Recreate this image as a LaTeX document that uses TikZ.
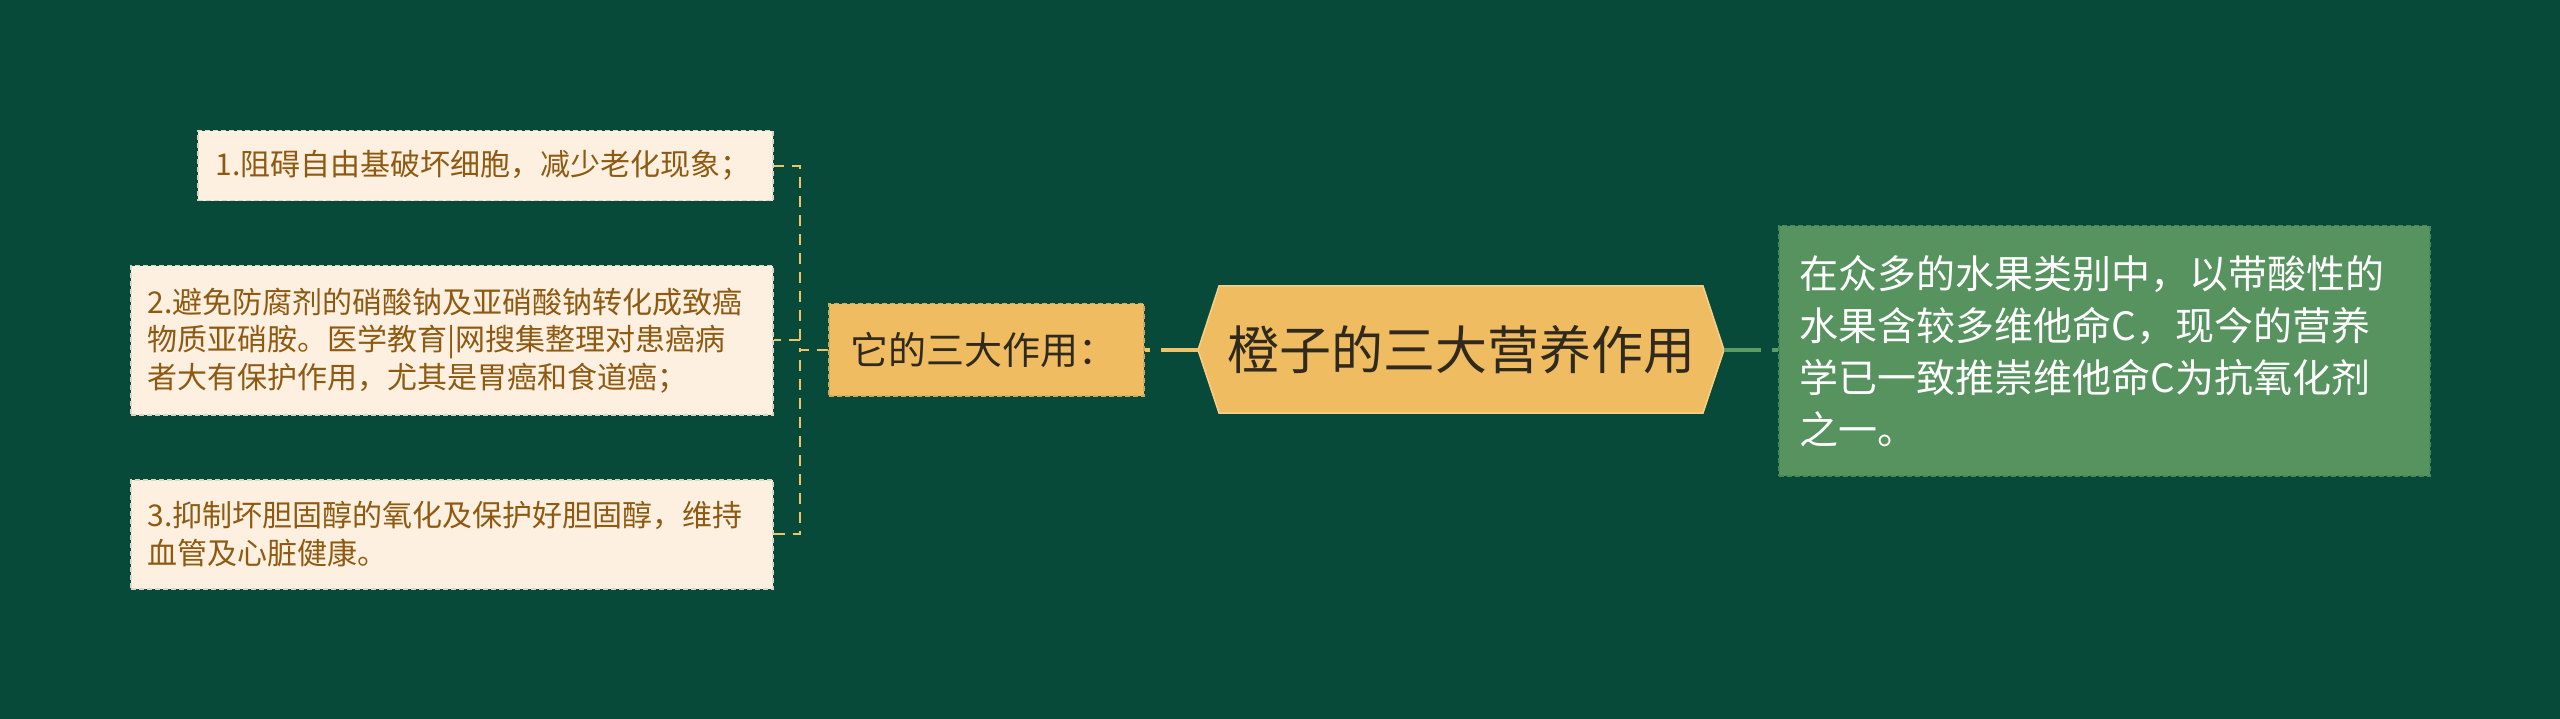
\documentclass[tikz,border=0pt]{standalone}
\usepackage{fontspec}
\setmainfont{Noto Sans CJK SC}
\definecolor{bg}{HTML}{074A3A}
\definecolor{hexfill}{HTML}{F0BC62}
\definecolor{hexline}{HTML}{F6D08A}
\definecolor{darktext}{HTML}{302A1E}
\definecolor{leaffill}{HTML}{FDF0E0}
\definecolor{leaftext}{HTML}{8E5A12}
\definecolor{greenfill}{HTML}{56935E}
\definecolor{greenline}{HTML}{5B9B64}
\definecolor{yline}{HTML}{EDC46C}
\begin{document}
\begin{tikzpicture}[x=1pt,y=-1pt,
  boxbase/.style={anchor=north west, align=left, inner ysep=0pt, line width=1.5pt, dash pattern=on 5pt off 3pt},
  leafbox/.style={boxbase, fill=leaffill, draw=leaffill!85!bg, text=leaftext, font=\fontsize{30}{37.5}\selectfont},
  midbox/.style={boxbase, fill=hexfill, draw=hexfill!85!bg, text=darktext, font=\fontsize{38}{46}\selectfont},
  greenbox/.style={boxbase, fill=greenfill, draw=greenfill!85!bg, text=white, font=\fontsize{39}{52}\selectfont},
  thickline/.style={line width=4pt, dash pattern=on 37pt off 11pt},
  trunk/.style={draw=yline, line width=2pt, dash pattern=on 11pt off 8pt}
]
\useasboundingbox (0,0) rectangle (2560,719);
\fill[bg] (0,0) rectangle (2560,719);

% central hexagon
\coordinate (hw) at (1198,350);
\coordinate (hnw) at (1219,286);
\coordinate (hne) at (1703,286);
\coordinate (he) at (1724,350);
\coordinate (hse) at (1703,413);
\coordinate (hsw) at (1219,413);
\filldraw[fill=hexfill, draw=hexline, line width=1.5pt] (hw) -- (hnw) -- (hne) -- (he) -- (hse) -- (hsw) -- cycle;
\node[text=darktext, font=\fontsize{52}{60}\selectfont, inner sep=0pt] (core) at (1461,350) {橙子的三大营养作用};

% left branch
\node[midbox, minimum width=315pt, minimum height=92pt, text width=271pt, inner xsep=22pt] (mid) at (828,303) {它的三大作用：};

\node[leafbox, minimum width=575pt, minimum height=70pt, text width=539pt, inner xsep=18pt] (l1) at (197,130) {1.阻碍自由基破坏细胞，减少老化现象；};
\node[leafbox, minimum width=642pt, minimum height=149pt, text width=608pt, inner xsep=17pt] (l2) at (130,265) {2.避免防腐剂的硝酸钠及亚硝酸钠转化成致癌\\物质亚硝胺。医学教育|网搜集整理对患癌病\\者大有保护作用，尤其是胃癌和食道癌；};
\node[leafbox, minimum width=642pt, minimum height=109pt, text width=608pt, inner xsep=17pt] (l3) at (130,479) {3.抑制坏胆固醇的氧化及保护好胆固醇，维持\\血管及心脏健康。};

% right branch
\node[greenbox, minimum width=651pt, minimum height=250pt, text width=609pt, inner xsep=21pt] (green) at (1778,225) {在众多的水果类别中，以带酸性的\\水果含较多维他命C，现今的营养\\学已一致推崇维他命C为抗氧化剂\\之一。};

% connectors
\draw[thickline, yline] (hw) -- (hw -| mid.east);
\draw[thickline, greenline] (he) -- (he -| green.west);
\draw[trunk] (mid.west) -- ++(-28,0) |- (l1.east);
\draw[trunk] (mid.west) -- ++(-28,0) |- (l2.east);
\draw[trunk] (mid.west) -- ++(-28,0) |- (l3.east);
\end{tikzpicture}
\end{document}
